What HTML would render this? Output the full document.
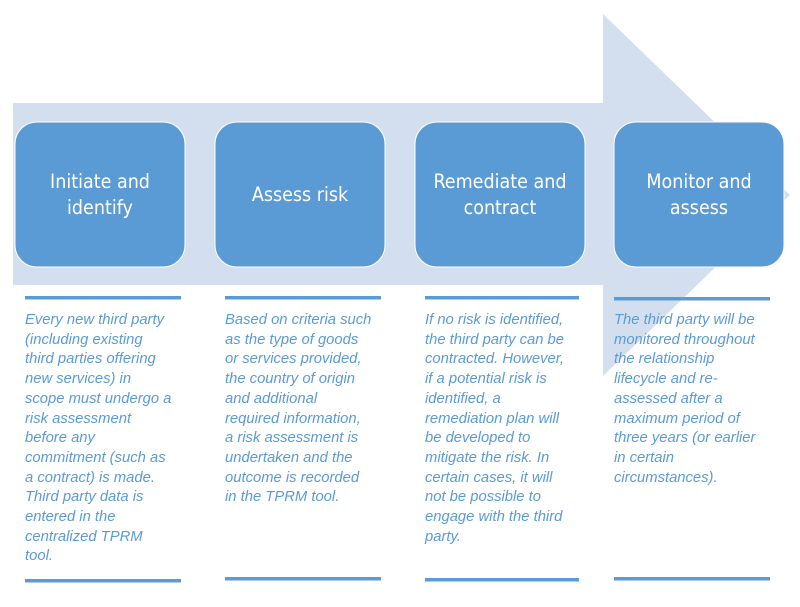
<!DOCTYPE html>
<html><head><meta charset="utf-8"><style>
body{margin:0;width:800px;height:607px;background:#fff;position:relative;overflow:hidden;font-family:"Liberation Sans",sans-serif}
svg{position:absolute;left:0;top:0}
.t{position:absolute;font-style:italic;font-size:14.8px;line-height:19.7px;color:#5b9bd5;top:311px;width:170px;white-space:nowrap}
.h{position:absolute;top:122px;height:145px;width:170px;display:flex;align-items:center;justify-content:center;text-align:center;color:#fff;font-size:19.5px;line-height:26px;font-family:"DejaVu Sans Condensed","Liberation Sans",sans-serif}
</style></head><body>
<svg width="800" height="607">
<polygon points="13,103 603,103 603,14 790,195 603,376 603,285 13,285" fill="#d3dfee"/>
<rect x="15" y="122" width="170" height="145" rx="22" fill="#5b9bd5" stroke="#fff" stroke-width="1"/>
<rect x="215" y="122" width="170" height="145" rx="22" fill="#5b9bd5" stroke="#fff" stroke-width="1"/>
<rect x="415" y="122" width="170" height="145" rx="22" fill="#5b9bd5" stroke="#fff" stroke-width="1"/>
<rect x="614" y="122" width="170" height="145" rx="22" fill="#5b9bd5" stroke="#fff" stroke-width="1"/>
<g fill="#5b9bd5">
<rect x="25" y="296" width="156" height="3.5"/>
<rect x="225" y="296" width="156" height="3.5"/>
<rect x="425" y="296" width="154" height="3.5"/>
<rect x="614" y="297" width="156" height="3.5"/>
<rect x="25" y="579" width="156" height="3.5"/>
<rect x="225" y="577" width="156" height="3.5"/>
<rect x="425" y="578" width="154" height="3.5"/>
<rect x="614" y="577" width="156" height="3.5"/>
</g>
</svg>
<div class="h" style="left:15px">Initiate and<br>identify</div>
<div class="h" style="left:215px">Assess risk</div>
<div class="h" style="left:415px">Remediate and<br>contract</div>
<div class="h" style="left:614px">Monitor and<br>assess</div>
<div class="t" style="left:25px">Every new third party<br>(including existing<br>third parties offering<br>new services) in<br>scope must undergo a<br>risk assessment<br>before any<br>commitment (such as<br>a contract) is made.<br>Third party data is<br>entered in the<br>centralized TPRM<br>tool.</div>
<div class="t" style="left:225px">Based on criteria such<br>as the type of goods<br>or services provided,<br>the country of origin<br>and additional<br>required information,<br>a risk assessment is<br>undertaken and the<br>outcome is recorded<br>in the TPRM tool.</div>
<div class="t" style="left:425px">If no risk is identified,<br>the third party can be<br>contracted. However,<br>if a potential risk is<br>identified, a<br>remediation plan will<br>be developed to<br>mitigate the risk. In<br>certain cases, it will<br>not be possible to<br>engage with the third<br>party.</div>
<div class="t" style="left:614px">The third party will be<br>monitored throughout<br>the relationship<br>lifecycle and re-<br>assessed after a<br>maximum period of<br>three years (or earlier<br>in certain<br>circumstances).</div>
</body></html>
